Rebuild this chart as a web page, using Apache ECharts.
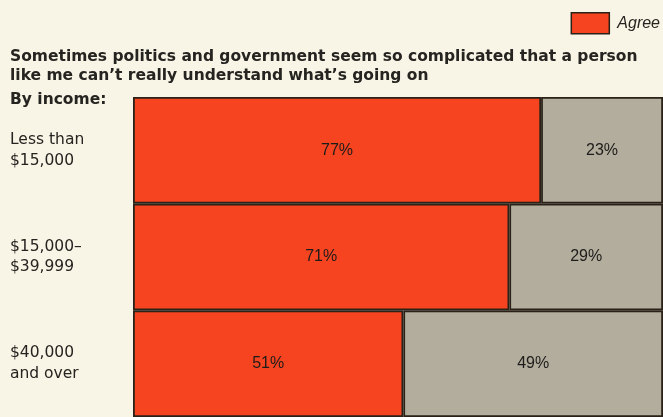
<!DOCTYPE html>
<html><head><meta charset="utf-8">
<script src="https://cdn.jsdelivr.net/npm/echarts@6/dist/echarts.min.js"></script>
<style>html,body{margin:0;padding:0;background:#f8f4e6;}#c{width:663px;height:417px;}</style>
</head><body><div id="c"></div>
<script>
const categories = ['Less than\n$15,000', '$15,000–\n$39,999', '$40,000\nand over'];
const agree = [77, 71, 51];
const disagree = [23, 29, 49];
const titleText = 'Sometimes politics and government seem so complicated that a person\nlike me can\u2019t really understand what\u2019s going on';
const groupLabel = 'By income:';
const legendLabel = 'Agree';

const chart = echarts.init(document.getElementById('c'), null, {renderer: 'canvas'});
const font = 'Liberation Sans, Arial, sans-serif';
const wide = 'DejaVu Sans, Verdana, sans-serif';
const ink = '#262420';
chart.setOption({
  backgroundColor: '#f8f4e6',
  animation: false,
  textStyle: {fontFamily: font},
  title: [{
    text: titleText, left: 10, top: 48, padding: 0,
    textStyle: {fontSize: 15.5, fontWeight: 'bold', color: ink, lineHeight: 18.5, fontFamily: wide}
  }, {
    text: groupLabel, left: 10, top: 92, padding: 0,
    textStyle: {fontSize: 15.5, fontWeight: 'bold', color: ink, fontFamily: wide}
  }],
  legend: {
    data: [{name: legendLabel, icon: 'rect'}], right: 3, top: 12, itemWidth: 38, itemHeight: 21, padding: 0,
    itemStyle: {borderColor: '#2a2218', borderWidth: 1.5},
    textStyle: {fontSize: 16, fontStyle: 'italic', color: ink, fontFamily: font, padding: [0, 0, 0, 3]}
  },
  grid: {left: 133, right: -4, top: 97, bottom: -1, containLabel: false},
  xAxis: {type: 'value', min: 0, max: 100, show: false},
  yAxis: {
    type: 'category', data: categories, inverse: true,
    axisLine: {show: false}, axisTick: {show: false}, splitLine: {show: false},
    axisLabel: {align: 'left', margin: 123, fontSize: 15.5, lineHeight: 20.5, color: ink, fontFamily: wide}
  },
  series: [{
    name: legendLabel, type: 'bar', stack: 'a', data: agree, barCategoryGap: 0,
    itemStyle: {color: '#f5441f', borderColor: '#2a2218', borderWidth: 1.8},
    label: {show: true, position: 'inside', formatter: '{c}%', fontSize: 16, color: '#1e1c1a', fontFamily: font}
  }, {
    name: 'Disagree', type: 'bar', stack: 'a', data: disagree, barCategoryGap: 0,
    itemStyle: {color: '#b2ad9d', borderColor: '#2a2218', borderWidth: 1.8},
    label: {show: true, position: 'inside', formatter: '{c}%', fontSize: 16, color: '#1e1c1a', fontFamily: font}
  }]
});
</script></body></html>
